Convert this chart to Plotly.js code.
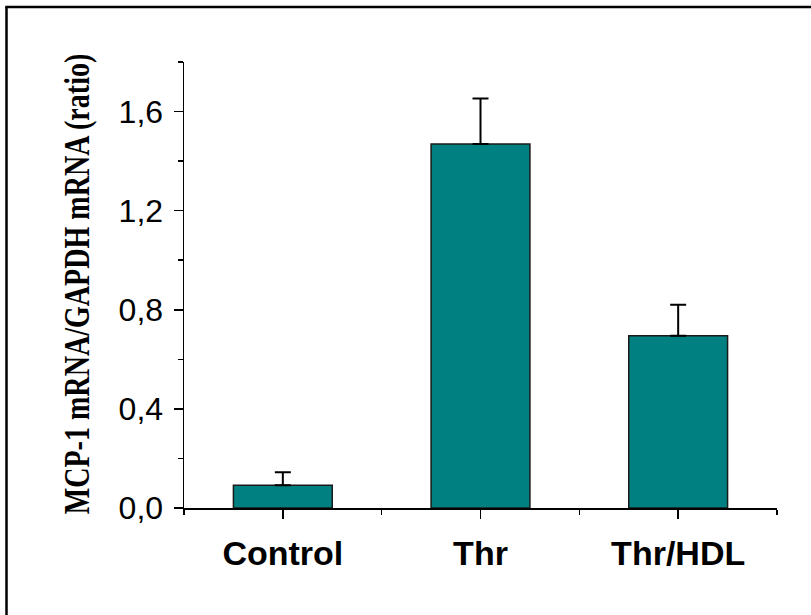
<!DOCTYPE html>
<html>
<head>
<meta charset="utf-8">
<script src="https://cdn.plot.ly/plotly-3.0.1.min.js"></script>
<style>
  html, body { margin: 0; padding: 0; background: #ffffff; }
  #chart { width: 811px; height: 615px; }
</style>
</head>
<body>
<div id="chart"></div>
<script>
// ---- data ----
const categories = ['Control', 'Thr', 'Thr/HDL'];
const ratioValues = [0.092, 1.469, 0.695];
const errorUp = [0.052, 0.184, 0.125];
const errorDown = [0, 0, 0];
const yTickVals = [0, 0.4, 0.8, 1.2, 1.6];
const yTickText = ['0,0', '0,4', '0,8', '1,2', '1,6'];
const yMinorVals = [0.2, 0.6, 1.0, 1.4, 1.8];
const xMinorVals = [-0.5, 0.5, 1.5, 2.5];
const yTitle = 'MCP-1 mRNA/GAPDH mRNA (ratio)';

const xPos = categories.map((c, i) => i);

const trace = {
  type: 'bar',
  x: xPos,
  y: ratioValues,
  width: 0.5,
  marker: { color: '#008080', line: { color: '#1a1a1a', width: 1.5 } },
  error_y: {
    type: 'data', symmetric: false, array: errorUp, arrayminus: errorDown,
    color: '#000000', thickness: 2, width: 8
  },
  hoverinfo: 'none'
};

const W = 811, H = 615;
const M = { l: 184, r: 34, t: 62, b: 107 };
const pw = W - M.l - M.r, ph = H - M.t - M.b;
const px2x = p => (p - M.l) / pw;
const px2y = p => (H - M.b - p) / ph;

const layout = {
  width: W, height: H,
  margin: M,
  paper_bgcolor: '#ffffff',
  plot_bgcolor: '#ffffff',
  showlegend: false,
  xaxis: {
    range: [-0.5, 2.5],
    tickmode: 'array', tickvals: xPos, ticktext: categories,
    ticks: 'outside', ticklen: 9, tickwidth: 1.5, tickcolor: '#000',
    ticklabelstandoff: 6,
    showline: true, linecolor: '#000', linewidth: 1.5,
    showgrid: false, zeroline: false,
    tickfont: { family: 'Liberation Sans, Arial, sans-serif', size: 34, color: '#000', weight: 'bold' },
    minor: { tickmode: 'array', tickvals: xMinorVals, ticks: 'outside', ticklen: 5, tickwidth: 1.5, tickcolor: '#000', showgrid: false }
  },
  yaxis: {
    range: [0, 1.8],
    tickmode: 'array', tickvals: yTickVals, ticktext: yTickText,
    ticks: 'outside', ticklen: 9, tickwidth: 1.5, tickcolor: '#000',
    ticklabelstandoff: 4,
    showline: true, linecolor: '#000', linewidth: 1.5,
    showgrid: false, zeroline: false,
    tickfont: { family: 'Liberation Sans, Arial, sans-serif', size: 32, color: '#000' },
    minor: { tickmode: 'array', tickvals: yMinorVals, ticks: 'outside', ticklen: 5, tickwidth: 1.5, tickcolor: '#000', showgrid: false },
    title: {
      text: yTitle,
      font: { family: 'Liberation Serif, Times New Roman, serif', size: 36, color: '#000', weight: 'bold' },
      standoff: 28
    }
  },
  shapes: [
    // page frame: only its left and top sides fall inside the picture
    { type: 'line', xref: 'paper', yref: 'paper',
      x0: px2x(6.5), x1: px2x(6.5), y0: px2y(620), y1: px2y(7),
      line: { color: '#000', width: 2.5 }, layer: 'above' },
    { type: 'line', xref: 'paper', yref: 'paper',
      x0: px2x(5.25), x1: px2x(820), y0: px2y(7), y1: px2y(7),
      line: { color: '#000', width: 2.5 }, layer: 'above' }
  ]
};

Plotly.newPlot('chart', [trace], layout, { displayModeBar: false, staticPlot: true }).then(gd => {
  // the reference title is a tall, narrow serif: draw it at 36px and narrow it along its reading direction
  const t = gd.querySelector('text.ytitle') || gd.querySelector('.g-ytitle text');
  if (t) {
    const baseX = 89, centerY = 284, squeeze = 0.78;
    t.setAttribute('x', 0);
    t.setAttribute('y', 0);
    t.removeAttribute('dy');
    t.querySelectorAll('tspan').forEach(s => { s.removeAttribute('x'); s.removeAttribute('y'); s.removeAttribute('dy'); });
    t.setAttribute('text-anchor', 'middle');
    t.setAttribute('transform', 'translate(' + baseX + ',' + centerY + ') rotate(-90) scale(' + squeeze + ',1)');
  }
});
</script>
</body>
</html>
